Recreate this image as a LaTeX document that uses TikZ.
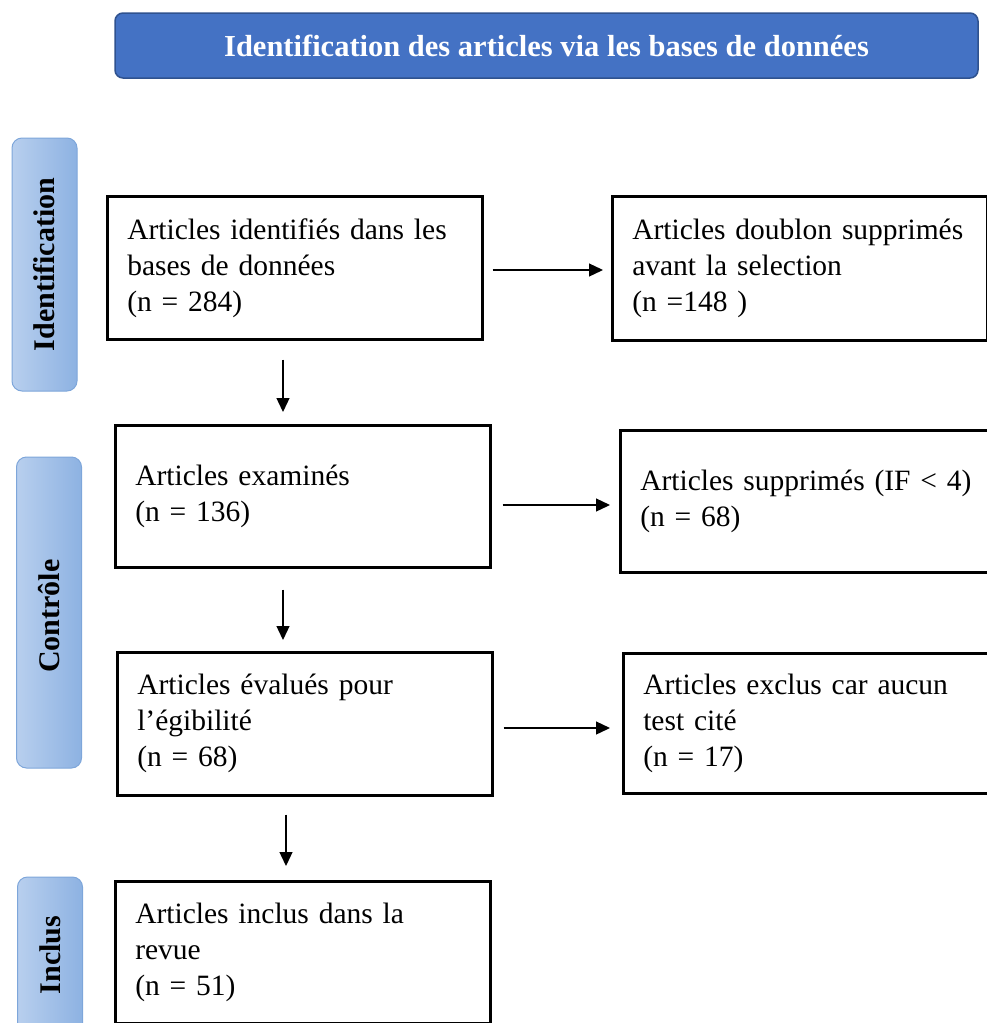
\documentclass[tikz,border=0pt]{standalone}
\usepackage{fontspec}
\setmainfont{Liberation Serif}
\definecolor{HeadBlue}{HTML}{4472C4}
\definecolor{HeadEdge}{HTML}{2F528F}
\definecolor{SideLight}{HTML}{B8CFEE}
\definecolor{SideDark}{HTML}{8DB2E2}
\definecolor{SideEdge}{HTML}{7EA6DA}
\usetikzlibrary{arrows.meta, positioning, calc}

\begin{document}
\begin{tikzpicture}[x=1pt, y=-1pt, >={Triangle[length=14pt, width=13pt]},
  stagebox/.style={draw, line width=2.5pt, rectangle, anchor=north west,
    inner xsep=20pt, align=left, text width=335pt, minimum width=375pt,
    font=\fontsize{29.5}{36}\selectfont},
  phase/.style={draw=SideEdge, line width=1pt, rounded corners=10pt,
    left color=SideLight, right color=SideDark, minimum width=65pt},
  phaselabel/.style={rotate=90, font=\fontsize{30}{32}\selectfont\bfseries},
  flow/.style={->, line width=1.3pt}]
  \useasboundingbox (0,0) rectangle (986,1023);

  % Header
  \node[draw=HeadEdge, line width=1.5pt, fill=HeadBlue, rounded corners=8pt,
    minimum width=863pt, minimum height=65pt, text=white,
    font=\fontsize{30.5}{32}\selectfont\bfseries] (head) at (546.5,45.5)
    {Identification des articles via les bases de données};

  % Phases on the left
  \node[phase, minimum height=253pt] (sideId) at (44.5,264.5) {};
  \node[phaselabel] (labId) at (sideId.center) {Identification};
  \node[phase, minimum height=311pt] (sideCtl) at (49,612.5) {};
  \node[phaselabel] (labCtl) at (49,616) {Contrôle};
  \node[phase, minimum height=170pt] (sideInc) at (50,962) {};
  \node[phaselabel] (labInc) at (50,955) {Inclus};

  % Boxes
  \node[stagebox, minimum height=143pt] (b1) at (106,195)
    {Articles identifiés dans les\\ bases de données\\ (n = 284)};
  \node[stagebox, minimum height=144pt] (b2) at (611,195)
    {Articles doublon supprimés\\ avant la selection\\ (n =148 )};
  \node[stagebox, minimum height=142pt] (b3) at (114,424)
    {Articles examinés\\ (n = 136)};
  \node[stagebox, minimum height=142pt] (b4) at (619,429)
    {Articles supprimés (IF < 4)\\ (n = 68)};
  \node[stagebox, minimum height=143pt] (b5) at (116,651)
    {Articles évalués pour\\ l’égibilité\\ (n = 68)};
  \node[stagebox, minimum height=140pt] (b6) at (622,652)
    {Articles exclus car aucun\\ test cité\\ (n = 17)};
  \node[stagebox, minimum height=142pt] (b7) at (114,880)
    {Articles inclus dans la\\ revue\\ (n = 51)};

  % Arrows
  \coordinate (colA) at (283,0);
  \coordinate (colB) at (286,0);
  \coordinate (rowA) at (0,270);
  \coordinate (rowB) at (0,505);
  \coordinate (rowC) at (0,728);
  \draw[flow, shorten <=9pt, shorten >=8pt] (b1.east |- rowA) -- (b2.west |- rowA);
  \draw[flow, shorten <=11pt, shorten >=9pt] (b3.east |- rowB) -- (b4.west |- rowB);
  \draw[flow, shorten <=10pt, shorten >=12pt] (b5.east |- rowC) -- (b6.west |- rowC);
  \draw[flow, shorten <=19pt, shorten >=12pt] (b1.south -| colA) -- (b3.north -| colA);
  \draw[flow, shorten <=21pt, shorten >=11pt] (b3.south -| colA) -- (b5.north -| colA);
  \draw[flow, shorten <=18pt, shorten >=14pt] (b5.south -| colB) -- (b7.north -| colB);
\end{tikzpicture}
\end{document}
